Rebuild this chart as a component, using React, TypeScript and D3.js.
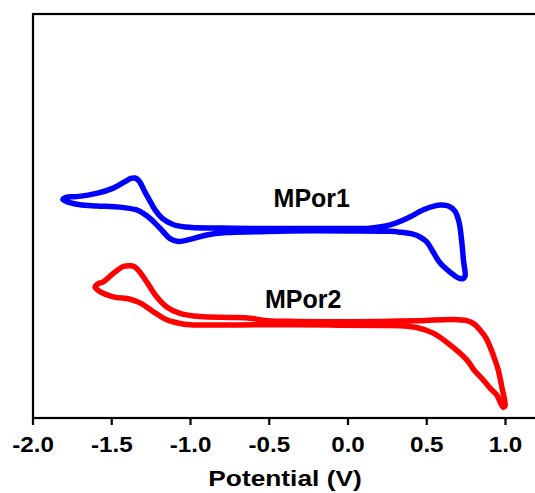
import React from "react";
import * as d3 from "d3";

// Potential (V) and current (arbitrary units), one closed CV loop per compound
const mpor1Potential = [
  0.0, 0.14, 0.267, 0.373, 0.476, 0.54, 0.595, 0.641, 0.679, 0.705, 0.721, 0.733, 0.743, 0.73, 0.698, 0.648,
  0.584, 0.533, 0.5, 0.457, 0.413, 0.33, 0.267, 0.013, -0.368, -0.58, -0.77, -0.897, -1.003, -1.077, -1.13,
  -1.173, -1.219, -1.257, -1.302, -1.342, -1.448, -1.596, -1.702, -1.765, -1.81, -1.79, -1.723, -1.596, -1.49,
  -1.416, -1.378, -1.352, -1.327, -1.289, -1.257, -1.225, -1.181, -1.111, -1.035, -0.813, -0.368,
];
const mpor1Current = [
  46.9, 47.0, 47.8, 49.4, 51.5, 52.4, 52.7, 52.4, 51.2, 48.5, 44.1, 39.1, 35.1, 34.5, 34.7, 36.1,
  38.4, 41.6, 43.6, 44.8, 45.5, 46.0, 46.2, 46.3, 46.3, 46.1, 45.9, 45.3, 44.2, 43.7, 44.4,
  46.1, 48.0, 49.4, 50.7, 51.5, 52.2, 52.5, 52.8, 53.3, 54.1, 54.6, 54.8, 55.6, 56.9,
  58.5, 59.3, 59.4, 58.7, 55.9, 53.7, 51.5, 49.5, 47.9, 47.3, 47.0, 46.9,
];

const mpor2Potential = [
  0.0, 0.203, 0.457, 0.667, 0.754, 0.8, 0.838, 0.876, 0.902, 0.933, 0.954, 0.978, 0.997, 0.984, 0.944, 0.902,
  0.859, 0.8, 0.754, 0.648, 0.541, 0.436, 0.351, 0.203, -0.114, -0.537, -0.854, -1.003, -1.067, -1.151, -1.236,
  -1.321, -1.384, -1.49, -1.575, -1.606, -1.587, -1.554, -1.49, -1.427, -1.384, -1.359, -1.332, -1.278, -1.215,
  -1.151, -1.067, -0.94, -0.749, -0.622, -0.516, -0.326,
];
const mpor2Current = [
  23.8, 23.9, 24.1, 24.4, 24.1, 23.3, 21.8, 19.8, 17.6, 14.4, 11.9, 7.4, 3.0, 2.7, 5.7, 7.4,
  9.4, 11.9, 14.4, 18.1, 21.0, 22.4, 22.8, 22.9, 23.0, 23.1, 23.0, 23.1, 23.4, 24.3, 26.3,
  28.5, 29.4, 30.0, 31.3, 32.4, 33.2, 33.7, 35.8, 37.5, 37.7, 37.5, 36.6, 33.7, 30.0,
  27.5, 25.9, 25.1, 24.9, 24.7, 24.1, 23.9,
];

const xTicks = [-2.0, -1.5, -1.0, -0.5, 0.0, 0.5, 1.0];
const seriesNames = ["MPor1", "MPor2"];
const seriesColors = ["#0000ff", "#ff0000"];
const labelPos = [
  { v: -0.23, c: 52.3 },
  { v: -0.285, c: 27.3 },
];
const xTitle = "Potential (V)";

export default function App() {
  const W = 535;
  const H = 493;
  const left = 33;
  const top = 14;
  const bottom = 418;
  const x = d3.scaleLinear().domain([-2, 1.2]).range([left, left + 3.2 * 157.5]);
  const y = d3.scaleLinear().domain([0, 100]).range([bottom, bottom - 404]);

  const line = d3
    .line<[number, number]>()
    .x((d) => x(d[0]))
    .y((d) => y(d[1]))
    .curve(d3.curveCatmullRomClosed.alpha(0.5));

  const series = [
    mpor1Potential.map((v, i) => [v, mpor1Current[i]] as [number, number]),
    mpor2Potential.map((v, i) => [v, mpor2Current[i]] as [number, number]),
  ];

  const font = "'Liberation Sans', Arial, sans-serif";

  return (
    <svg
      width={W}
      height={H}
      style={{ position: "absolute", left: 0, top: 0, background: "#fff" }}
    >
      <rect x={0} y={0} width={W} height={H} fill="#fff" />
      {series.map((d, i) => (
        <path
          key={i}
          d={line(d) || ""}
          fill="none"
          stroke={seriesColors[i]}
          strokeWidth={5.5}
          strokeLinejoin="round"
          strokeLinecap="round"
        />
      ))}
      <rect
        x={left}
        y={top}
        width={W + 20 - left}
        height={bottom - top}
        fill="none"
        stroke="#000"
        strokeWidth={2.2}
      />
      {xTicks.map((t) => (
        <g key={t} transform={`translate(${x(t)},${bottom})`}>
          <line y1={0} y2={7} stroke="#000" strokeWidth={2.2} />
          <text
            transform="translate(0,33.7) scale(1.1,1)"
            textAnchor="middle"
            fontFamily={font}
            fontWeight="bold"
            fontSize={22}
            fill="#000"
          >
            {t.toFixed(1)}
          </text>
        </g>
      ))}
      <text
        transform="translate(285,486) scale(1.17,1)"
        textAnchor="middle"
        fontFamily={font}
        fontWeight="bold"
        fontSize={22.5}
        fill="#000"
      >
        {xTitle}
      </text>
      {seriesNames.map((n, i) => (
        <text
          key={n}
          x={x(labelPos[i].v)}
          y={y(labelPos[i].c)}
          textAnchor="middle"
          fontFamily={font}
          fontWeight="bold"
          fontSize={25}
          fill="#000"
        >
          {n}
        </text>
      ))}
    </svg>
  );
}
